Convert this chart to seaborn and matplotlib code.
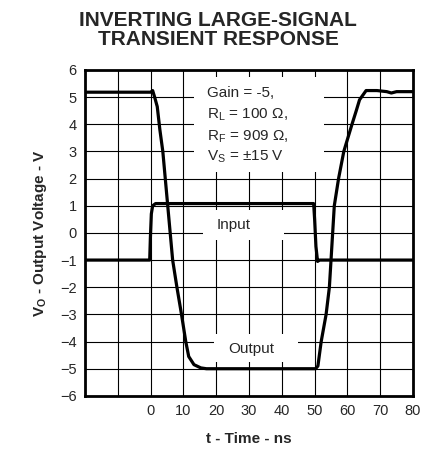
import numpy as np
import pandas as pd
import matplotlib
matplotlib.use("Agg")
import matplotlib.pyplot as plt
from matplotlib.patches import Rectangle
import seaborn as sns

# input step (ns, V)
t_input = [-20, -0.3, -0.1, 0.2, 0.6, 1.5, 49.7, 50.0, 50.4, 50.9, 51.5, 80]
v_input = [-1.0, -1.0, -0.2, 0.7, 1.0, 1.08, 1.08, 0.5, -0.5, -1.05, -1.0, -1.0]

# output response (ns, V)
t_output = [-20, 0, 0.6, 1.2, 2.0, 2.8, 3.7, 5.2, 6.7, 8.0, 9.4, 10.7, 11.6, 13.2,
            15.3, 17, 30, 50.3, 51, 52, 53.5, 54.5, 55, 56, 57.3, 58.9, 61.4, 62.7,
            63.7, 65.7, 69, 72, 73.4, 75, 80]
v_output = [5.18, 5.18, 5.24, 5.0, 4.65, 3.8, 3.0, 1.0, -1.0, -2.0, -3.0, -4.0, -4.55,
            -4.85, -4.97, -5.0, -5.0, -5.0, -4.9, -4.0, -3.0, -2.0, -1.0, 1.0, 2.0,
            3.0, 4.0, 4.5, 4.9, 5.24, 5.24, 5.2, 5.15, 5.2, 5.2]

x_ticks = [0, 10, 20, 30, 40, 50, 60, 70, 80]
y_ticks = list(range(-6, 7))

df_in = pd.DataFrame({"t": t_input, "v": v_input})
df_out = pd.DataFrame({"t": t_output, "v": v_output})

sns.set_style("white")
plt.rcParams['font.family'] = ['Liberation Sans', 'DejaVu Sans']

fig = plt.figure(figsize=(4.32, 4.54), dpi=100)
ax = fig.add_axes([0.197, 0.128, 0.759, 0.718])

ax.set_xlim(-20, 80)
ax.set_ylim(-6, 6)

# grid
for gx in range(-20, 81, 10):
    ax.axvline(gx, color='black', lw=0.8, zorder=1)
for gy in y_ticks:
    ax.axhline(gy, color='black', lw=0.8, zorder=1)

# white label boxes covering the grid
ax.add_patch(Rectangle((13.1, 2.25), 39.8, 3.5, facecolor='white', edgecolor='none', zorder=2))
ax.add_patch(Rectangle((15.9, -0.25), 24.8, 1.1, facecolor='white', edgecolor='none', zorder=2))
ax.add_patch(Rectangle((19.3, -4.74), 25.7, 1.0, facecolor='white', edgecolor='none', zorder=2))

sns.lineplot(data=df_in, x="t", y="v", ax=ax, color='black', lw=2.3, sort=False, zorder=3)
sns.lineplot(data=df_out, x="t", y="v", ax=ax, color='black', lw=2.3, sort=False, zorder=3)

ax.text(17.3, 5.15, "Gain = -5,", fontsize=11, va='center', zorder=4)
ax.text(17.3, 4.35, "R$_\\mathregular{L}$ = 100 Ω,", fontsize=11, va='center', zorder=4)
ax.text(17.3, 3.55, "R$_\\mathregular{F}$ = 909 Ω,", fontsize=11, va='center', zorder=4)
ax.text(17.3, 2.8, "V$_\\mathregular{S}$ = ±15 V", fontsize=11, va='center', zorder=4)
ax.text(25.4, 0.3, "Input", fontsize=11, ha='center', va='center', zorder=4)
ax.text(30.6, -4.26, "Output", fontsize=11, ha='center', va='center', zorder=4)

ax.set_xticks(x_ticks)
ax.set_yticks(y_ticks)
ax.tick_params(labelsize=10.5, length=0, pad=6)
ax.set_xlabel("t - Time - ns", fontsize=11, fontweight='bold', labelpad=10)
ax.set_ylabel("V$_\\mathregular{O}$ - Output Voltage - V", fontsize=11, fontweight='bold', labelpad=8)
for s in ax.spines.values():
    s.set_linewidth(2)
    s.set_color('black')
    s.set_zorder(5)

fig.text(0.505, 0.975, "INVERTING LARGE-SIGNAL\nTRANSIENT RESPONSE", ha='center', va='top',
         fontsize=15, fontweight='bold', linespacing=1.0)

fig.savefig("out.png", dpi=100)
